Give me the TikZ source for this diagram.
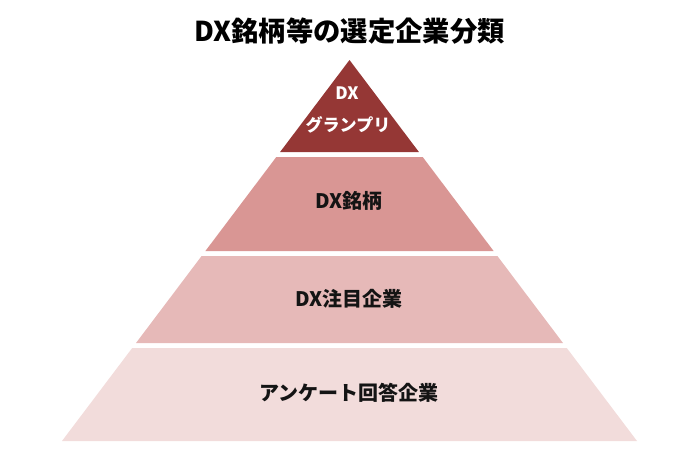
\documentclass[tikz,border=0pt]{standalone}
\usepackage{fontspec}
\setmainfont{Noto Sans CJK JP}

\tikzset{every picture/.style={line width=0.75pt}}
\tikzset{
  lbl/.style={font=\bfseries\fontsize{15}{17}\selectfont, text={rgb, 255:red, 20; green, 20; blue, 20}},
}

\begin{document}
\begin{tikzpicture}[x=0.75pt,y=0.75pt,yscale=-1,xscale=1]
	\useasboundingbox (0,0) rectangle (700,461); %diagram is 700 x 461

	%Shape: Triangle [id:top] 
	\fill [color={rgb, 255:red, 149; green, 55; blue, 53 }  ,fill opacity=1 ] (349.5,60) -- (418.9,152) -- (280.1,152) -- cycle ;
	%Shape: Trapezoid [id:band2] 
	\fill [color={rgb, 255:red, 217; green, 150; blue, 148 }  ,fill opacity=1 ] (276.3,157) -- (422.7,157) -- (493.6,251) -- (205.4,251) -- cycle ;
	%Shape: Trapezoid [id:band3] 
	\fill [color={rgb, 255:red, 230; green, 185; blue, 184 }  ,fill opacity=1 ] (201.6,256) -- (497.4,256) -- (563,343) -- (136,343) -- cycle ;
	%Shape: Trapezoid [id:band4] 
	\fill [color={rgb, 255:red, 242; green, 220; blue, 219 }  ,fill opacity=1 ] (132.2,348) -- (566.8,348) -- (637,441) -- (62,441) -- cycle ;

	% Text Node
	\draw (349.5,31) node (title) [font=\bfseries\fontsize{20.5}{24}\selectfont]  {DX銘柄等の選定企業分類};
	% Text Node
	\draw (347,93) node (gpDX) [lbl, text=white, font=\bfseries\fontsize{12.8}{15}\selectfont]  {DX};
	% Text Node
	\draw (348,125) node (gp) [lbl, text=white, font=\bfseries\fontsize{12.8}{15}\selectfont]  {グランプリ};
	% Text Node
	\draw (349,201) node (meigara) [lbl]  {DX銘柄};
	% Text Node
	\draw (349,299) node (chumoku) [lbl]  {DX注目企業};
	% Text Node
	\draw (349,393) node (enquete) [lbl]  {アンケート回答企業};

\end{tikzpicture}
\end{document}
